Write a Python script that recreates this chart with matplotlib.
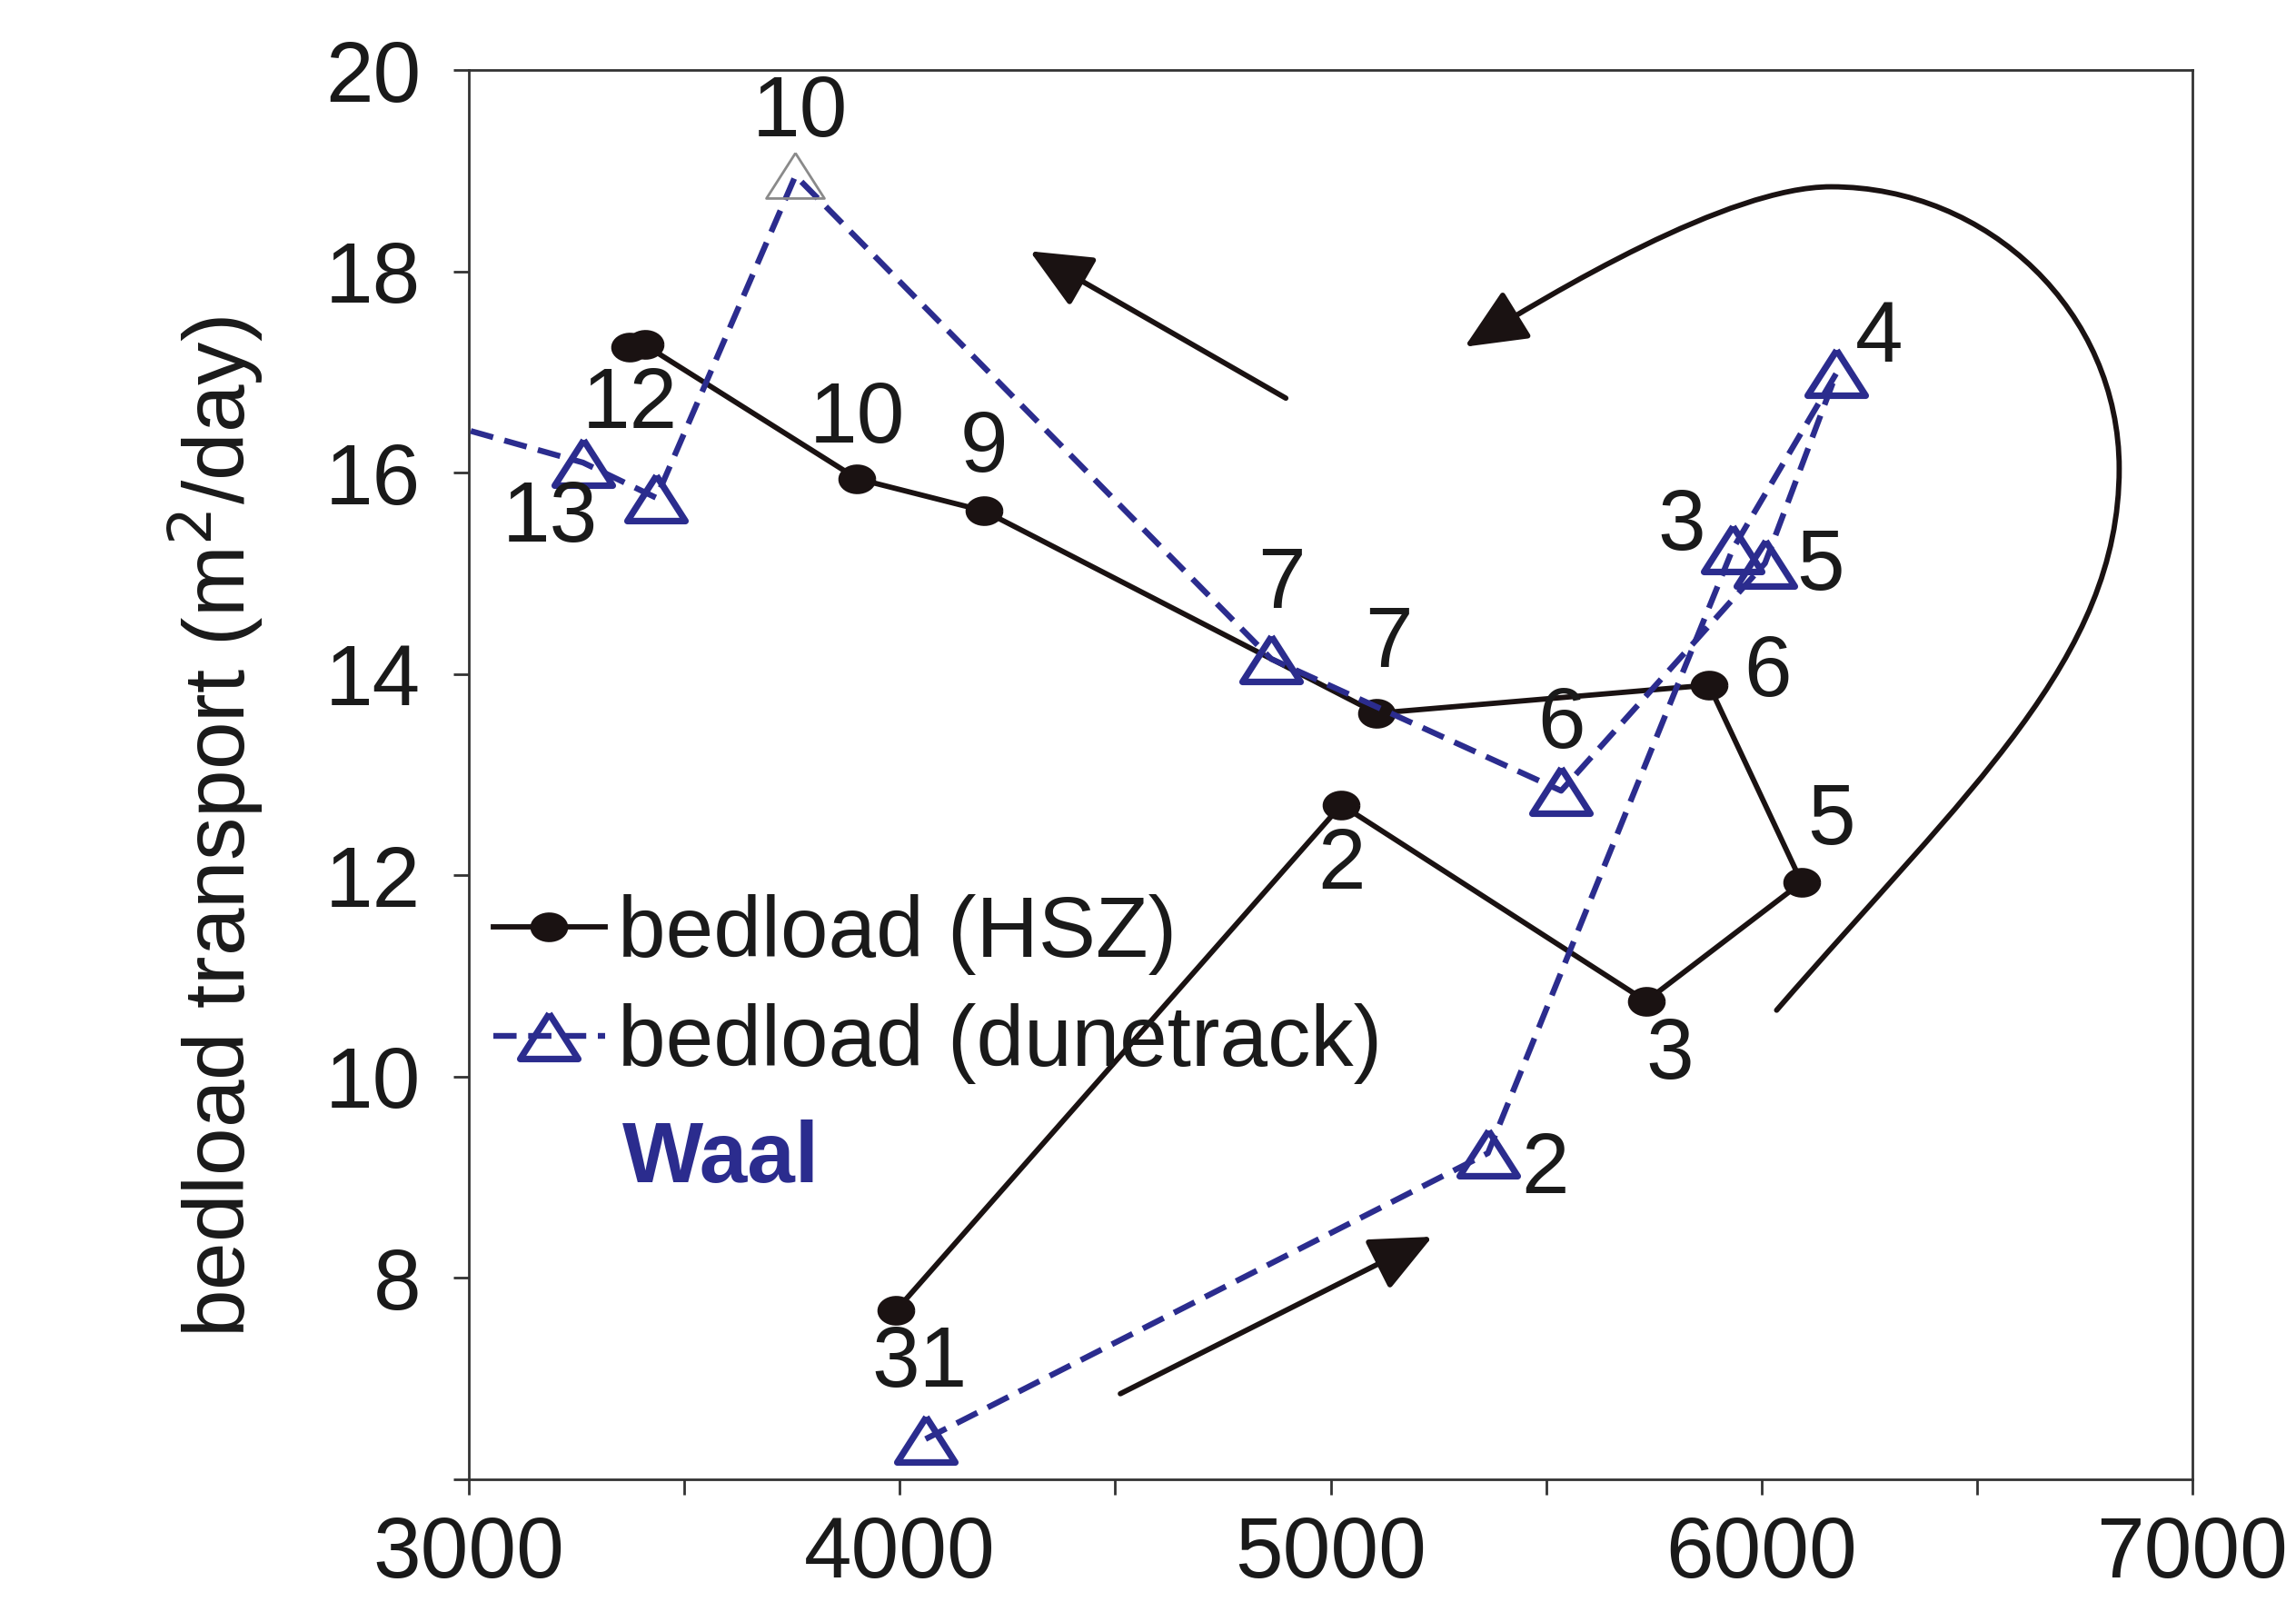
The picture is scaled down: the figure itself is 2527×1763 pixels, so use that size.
import numpy as np
import matplotlib.pyplot as plt
from matplotlib.path import Path
from matplotlib.patches import FancyArrowPatch

plt.rcParams['font.family'] = ['Liberation Sans', 'DejaVu Sans']

# bedload from the HSZ method, labelled with the day of the event
hsz_day = ['31', '2', '3', '5', '6', '7', '9', '10', '', '12']
hsz_q = [3992, 5025, 5732, 6093, 5878, 5107, 4196, 3901, 3408, 3374]
hsz_t = [7.68, 12.70, 10.75, 11.93, 13.89, 13.61, 15.62, 15.94, 17.27, 17.25]

# bedload from dune tracking (last point lies left of the axis)
dune_day = ['', '2', '3', '4', '5', '6', '7', '10', '', '13', '']
dune_q = [4060, 5365, 5933, 6174, 6008, 5535, 4862, 3758, 3435, 3265, 2850]
dune_t = [6.40, 9.24, 15.24, 16.99, 15.10, 12.84, 14.15, 18.95, 15.75, 16.10, 16.6]

# label offsets (points) from each marker
hsz_off = [(9, -21.5), (0, -24.4), (9.3, -22), (11.6, 23.8), (23.2, 4.6),
           (4.6, 27.3), (0, 24.4), (0, 23.2), (0, 0), (0, -23.2)]
dune_off = [(0, 0), (22.6, -7), (-20.3, 8.7), (16.8, 13.3), (22, -1.7), (0, 26),
            (4, 29), (1.7, 24.4), (0, 0), (-13, -22.6), (0, 0)]

# direction arrows (data coords)
arrow_up = [(4896, 16.74), (4302, 18.20)]
arrow_low = [(4512, 6.85), (5236, 8.41)]
loop_x = [6035, 6477, 6830, 6830, 6830, 6528, 6161, 5923, 5515, 5311]
loop_y = [10.66, 12.84, 14.15, 16.04, 17.59, 18.84, 18.84, 18.84, 17.79, 17.25]

BLUE = '#2b2c8e'
DARK = '#1a1212'
TXT = '#1a1a1a'
FS = 34

# marker shapes: flattened dot and wide open triangle
t = np.linspace(0, 2 * np.pi, 40)
dot = list(zip(1.3 * np.cos(t), np.sin(t)))
tri = [(0, 0.5), (-0.64, -0.5), (0.64, -0.5), (0, 0.5)]

fig = plt.figure(figsize=(12.635, 8.815), dpi=200)
ax = fig.add_axes([0.2042, 0.0766, 0.7507, 0.8797])

l1, = ax.plot(hsz_q, hsz_t, '-', color=DARK, lw=2.1, marker=dot, ms=14,
              mfc=DARK, mec=DARK, label='bedload (HSZ)', zorder=3)

special = dune_day.index('10')
keep = [i for i in range(len(dune_q)) if i != special]
l2, = ax.plot(dune_q, dune_t, color=BLUE, lw=2.3, dashes=(4.0, 2.0),
              marker=tri, ms=23, mfc='none', mec=BLUE, mew=2.6,
              markevery=keep, label='bedload (dunetrack)', zorder=4)
ax.plot([dune_q[special]], [dune_t[special]], ls='none', marker=tri, ms=23,
        mfc='none', mec='#8a8a8a', mew=1.0, zorder=4)

for txt, x, y, off in zip(hsz_day, hsz_q, hsz_t, hsz_off):
    if txt:
        ax.annotate(txt, (x, y), xytext=off, textcoords='offset points',
                    ha='center', va='center', fontsize=FS, color=TXT, zorder=5)
for txt, x, y, off in zip(dune_day, dune_q, dune_t, dune_off):
    if txt:
        ax.annotate(txt, (x, y), xytext=off, textcoords='offset points',
                    ha='center', va='center', fontsize=FS, color=TXT, zorder=5)

style = '-|>,head_length=1.0,head_width=0.45'
for a, b in [arrow_up, arrow_low]:
    ax.add_patch(FancyArrowPatch(a, b, arrowstyle=style, mutation_scale=21,
                                 lw=2.1, color=DARK, shrinkA=0, shrinkB=0))

codes = [Path.MOVETO] + [Path.CURVE4] * 9
loop = Path(list(zip(loop_x, loop_y)), codes)
ax.add_patch(FancyArrowPatch(path=loop, arrowstyle=style, mutation_scale=21,
                             lw=2.1, color=DARK, clip_on=False))

ax.text(3357, 8.95, 'Waal', color=BLUE, fontsize=FS, fontweight='bold',
        ha='left', va='baseline')

ax.legend(handles=[l1, l2], loc='upper left', bbox_to_anchor=(0.0142, 0.415),
          frameon=False, borderpad=0, borderaxespad=0, handlelength=1.3,
          handletextpad=0.15, labelspacing=0.33, fontsize=FS,
          labelcolor=TXT)

ax.set_xlim(3000, 7000)
ax.set_ylim(6, 20)
ax.set_xticks([3000, 4000, 5000, 6000, 7000])
ax.set_xticks([3500, 4500, 5500, 6500], minor=True)
ax.set_yticks(range(6, 21, 2))
ax.set_yticklabels([''] + [str(v) for v in range(8, 21, 2)])
ax.tick_params(which='both', direction='out', length=6, width=1.0,
               labelsize=FS, labelcolor=TXT, color='#333333')
ax.tick_params(axis='y', pad=13)
ax.tick_params(axis='x', pad=8)
for s in ax.spines.values():
    s.set_linewidth(1.0)
    s.set_color('#333333')

ax.set_ylabel('bedload transport (m$^2$/day)', fontsize=FS, color=TXT)
ax.yaxis.set_label_coords(-0.118, 0.463)

fig.savefig('out.png', dpi=200, facecolor='white')
